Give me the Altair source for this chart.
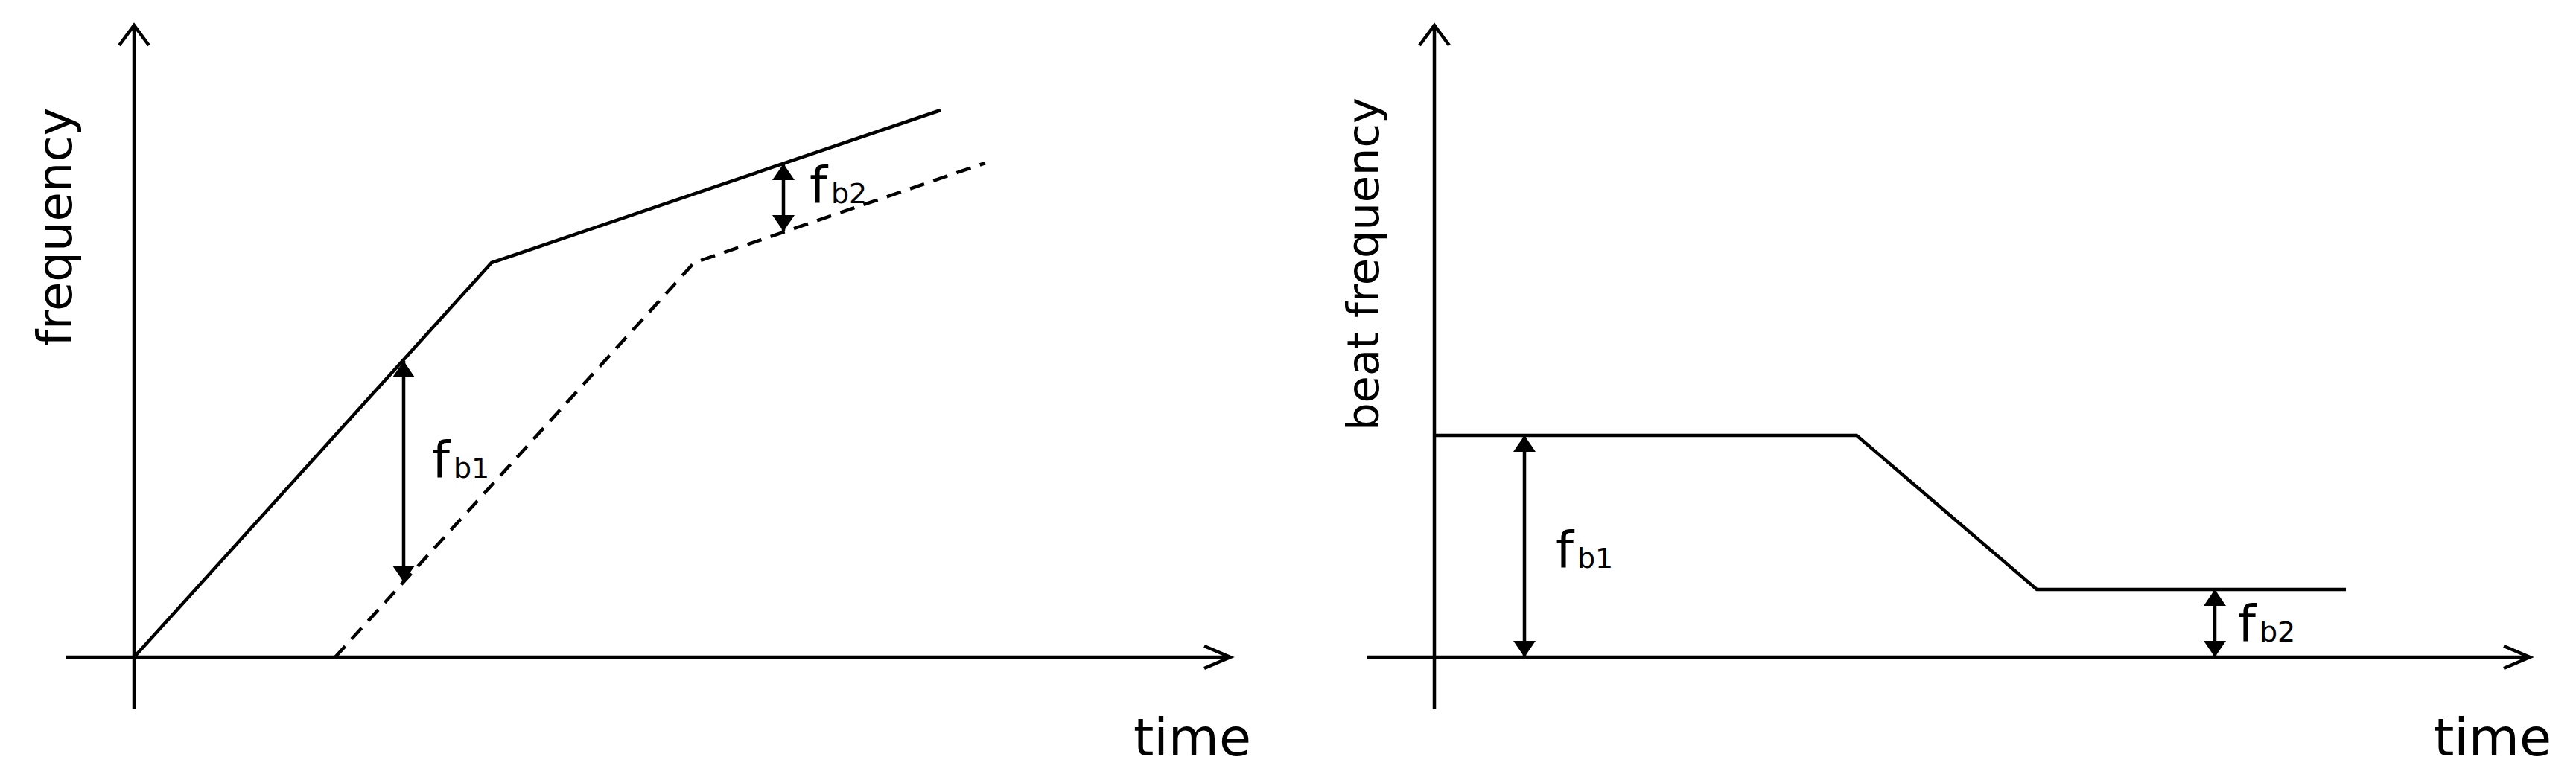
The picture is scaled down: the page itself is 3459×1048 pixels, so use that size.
import altair as alt
import pandas as pd

FONT = "DejaVu Sans"

# ---------------- Left panel: transmitted (solid) and received (dashed) chirps ----------------
tx_time = [0.0, 4.80, 10.83]
tx_freq = [0.0, 5.30, 7.35]
rx_time = [2.70, 7.52, 11.43]
rx_freq = [0.0, 5.30, 6.64]

left_arrow_time = [3.62, 8.72]
left_arrow_low = [1.01, 5.72]
left_arrow_high = [3.98, 6.63]

left_label_time = [4.00, 9.07]
left_sub_time = [4.29, 9.36]
left_label_freq = [2.41, 6.10]
left_subs = ["b1", "b2"]

# ---------------- Right panel: beat frequency ----------------
beat_time = [0.0, 5.67, 8.09, 12.24]
beat_freq = [2.98, 2.98, 0.91, 0.91]

right_arrow_time = [1.21, 10.48]
right_arrow_low = [0.0, 0.0]
right_arrow_high = [2.98, 0.91]

right_label_time = [1.63, 10.79]
right_sub_time = [1.92, 11.08]
right_label_freq = [1.20, 0.21]
right_subs = ["b1", "b2"]

# axis extents (time min/max, freq min/max)
left_axis = [-0.92, 14.72, -0.70, 8.49]
right_axis = [-0.91, 14.71, -0.70, 8.49]

left_ylabel = "frequency"
right_ylabel = "beat frequency"
xlabel = "time"

left_ylabel_pos = [-1.03, 5.78]
right_ylabel_pos = [-0.93, 5.28]
left_xlabel_pos = [14.21, -1.32]
right_xlabel_pos = [14.21, -1.32]

Y_DOMAIN = [-1.57, 8.75]
HEIGHT = 1032
LW = 4.5


def panel(xdom, width, lines, arrows, labels, axis, ylabel, ylabel_pos, ylabel_size, xlabel_pos):
    xs = alt.Scale(domain=xdom, nice=False, zero=False)
    ys = alt.Scale(domain=Y_DOMAIN, nice=False, zero=False)

    def X(f="t"):
        return alt.X(f + ":Q", scale=xs, axis=None)

    def Y(f="f"):
        return alt.Y(f + ":Q", scale=ys, axis=None)

    layers = []

    # axes
    axes_df = pd.DataFrame({
        "t": [axis[0], 0.0], "t2": [axis[1], 0.0],
        "f": [0.0, axis[2]], "f2": [0.0, axis[3]],
    })
    layers.append(
        alt.Chart(axes_df).mark_rule(color="black", strokeWidth=LW).encode(
            x=X(), x2="t2:Q", y=Y(), y2="f2:Q"
        )
    )
    # axis arrowheads (open chevrons)
    layers.append(
        alt.Chart(pd.DataFrame({"t": [0.0], "f": [axis[3]]})).mark_point(
            shape="M-1,1.35L0,0L1,1.35", size=1600, filled=False,
            color="black", strokeWidth=LW, opacity=1,
        ).encode(x=X(), y=Y())
    )
    layers.append(
        alt.Chart(pd.DataFrame({"t": [axis[1]], "f": [0.0]})).mark_point(
            shape="M-2.33,-1L0,0L-2.33,1", size=900, filled=False,
            color="black", strokeWidth=LW, opacity=1,
        ).encode(x=X(), y=Y())
    )

    # curves
    for (tt, ff, dash) in lines:
        df = pd.DataFrame({"t": tt, "f": ff, "o": list(range(len(tt)))})
        kw = dict(color="black", strokeWidth=LW, strokeCap="butt")
        if dash:
            kw["strokeDash"] = [20, 13]
        layers.append(
            alt.Chart(df).mark_line(**kw).encode(x=X(), y=Y(), order="o:Q")
        )

    # double-headed measurement arrows
    at, alo, ahi = arrows
    arr_df = pd.DataFrame({"t": at, "f": alo, "f2": ahi})
    layers.append(
        alt.Chart(arr_df).mark_rule(color="black", strokeWidth=LW).encode(
            x=X(), y=Y(), y2="f2:Q"
        )
    )
    layers.append(
        alt.Chart(pd.DataFrame({"t": at, "f": ahi})).mark_point(
            shape="M0,0L-1,1.47L1,1.47Z", size=900, filled=True,
            color="black", opacity=1,
        ).encode(x=X(), y=Y())
    )
    layers.append(
        alt.Chart(pd.DataFrame({"t": at, "f": alo})).mark_point(
            shape="M0,0L-1,-1.47L1,-1.47Z", size=900, filled=True,
            color="black", opacity=1,
        ).encode(x=X(), y=Y())
    )

    # f_b labels
    lt, st, lf, subs = labels
    layers.append(
        alt.Chart(pd.DataFrame({"t": lt, "f": lf, "s": ["f"] * len(lt)})).mark_text(
            align="left", baseline="alphabetic", font=FONT, fontSize=68, color="black"
        ).encode(x=X(), y=Y(), text="s:N")
    )
    layers.append(
        alt.Chart(pd.DataFrame({"t": st, "f": lf, "s": subs})).mark_text(
            align="left", baseline="alphabetic", font=FONT, fontSize=38, color="black"
        ).encode(x=X(), y=Y(), text="s:N")
    )

    # axis titles
    layers.append(
        alt.Chart(pd.DataFrame({"t": [ylabel_pos[0]], "f": [ylabel_pos[1]], "s": [ylabel]})).mark_text(
            align="center", baseline="middle", angle=270, font=FONT,
            fontSize=ylabel_size, color="black"
        ).encode(x=X(), y=Y(), text="s:N")
    )
    layers.append(
        alt.Chart(pd.DataFrame({"t": [xlabel_pos[0]], "f": [xlabel_pos[1]], "s": [xlabel]})).mark_text(
            align="center", baseline="alphabetic", font=FONT, fontSize=70, color="black"
        ).encode(x=X(), y=Y(), text="s:N")
    )

    return alt.layer(*layers).properties(width=width, height=HEIGHT)


left = panel(
    [-1.72, 15.48], 1720,
    [(tx_time, tx_freq, False), (rx_time, rx_freq, True)],
    (left_arrow_time, left_arrow_low, left_arrow_high),
    (left_label_time, left_sub_time, left_label_freq, left_subs),
    left_axis, left_ylabel, left_ylabel_pos, 64, left_xlabel_pos,
)

right = panel(
    [-1.98, 15.25], 1723,
    [(beat_time, beat_freq, False)],
    (right_arrow_time, right_arrow_low, right_arrow_high),
    (right_label_time, right_sub_time, right_label_freq, right_subs),
    right_axis, right_ylabel, right_ylabel_pos, 59, right_xlabel_pos,
)

chart = (
    alt.hconcat(left, right, spacing=0)
    .properties(padding=0, background="white")
    .configure_view(stroke=None)
)

chart.save("out.html", embed_options={"renderer": "svg", "actions": False})
